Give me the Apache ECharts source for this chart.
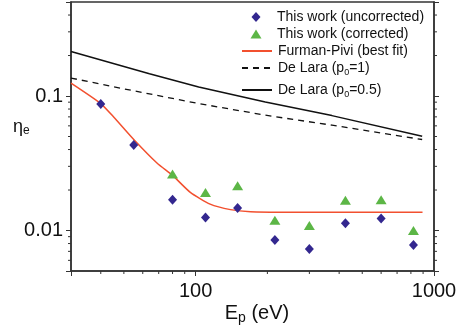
<!DOCTYPE html>
<html>
<head>
<meta charset="utf-8">
<script src="https://cdn.jsdelivr.net/npm/echarts@6/dist/echarts.min.js"></script>
<style>
  html, body { margin: 0; padding: 0; background: #fff; }
  #main { width: 463px; height: 333px; }
</style>
</head>
<body>
<div id="main"></div>
<script>
// measured points (E_p in eV, eta_e)
var xUncorr = [40, 55, 80, 110, 150, 215, 300, 425, 600, 820];
var yUncorr = [0.0873, 0.0432, 0.0169, 0.0125, 0.0147, 0.0085, 0.0073, 0.0113, 0.0123, 0.0078];
var xCorr = [80, 110, 150, 215, 300, 425, 600, 820];
var yCorr = [0.0263, 0.0192, 0.0215, 0.0119, 0.0109, 0.0168, 0.0169, 0.0100];

// model curves
var xFurman = [30, 40, 45.5, 55, 69, 80, 95, 115, 140, 170, 250, 895];
var yFurman = [0.1248, 0.0879, 0.0692, 0.0475, 0.0316, 0.0257, 0.0192, 0.0157, 0.0143, 0.0138, 0.01368, 0.01365];
var xLara1 = [30, 54, 103, 196, 373, 892];
var yLara1 = [0.136, 0.110, 0.0879, 0.072, 0.0607, 0.0475];
var xLara05 = [30, 64, 103, 196, 373, 892];
var yLara05 = [0.214, 0.1465, 0.1166, 0.0903, 0.0715, 0.0502];

// axis ranges and minor tick positions
var xMin = 30, xMax = 1000, yMin = 0.005, yMax = 0.5;
var minorX = [40, 50, 60, 70, 80, 90, 200, 300, 400, 500, 600, 700, 800, 900];
var minorY = [0.006, 0.007, 0.008, 0.009, 0.02, 0.03, 0.04, 0.05, 0.06, 0.07, 0.08, 0.09, 0.2, 0.3, 0.4];

var names = ['This work (uncorrected)', 'This work (corrected)', 'Furman-Pivi (best fit)',
             'De Lara (p0=1)', 'De Lara (p0=0.5)'];

function zip(xs, ys) {
    return xs.map(function (x, i) { return [x, ys[i]]; });
}

var FONT = 'Liberation Sans, Arial, Helvetica, sans-serif';
var AXIS_COLOR = '#333';

function decadeLabel(v) {
    var l = Math.log10(v);
    if (Math.abs(l - Math.round(l)) > 1e-6) return '';
    return String(Number(v.toPrecision(6)));
}

function legendText(name) {
    return name.replace('p0', 'p{s|0}');
}

var legendRich = {
    s: { fontSize: 9, lineHeight: 9, verticalAlign: 'bottom', fontFamily: FONT, color: '#111' }
};

function oneLegend(i, top, isLine, w, h, left, padLeft) {
    var lg = {
        data: [names[i]],
        left: left,
        top: top,
        padding: 0,
        itemWidth: w,
        itemHeight: h,
        selectedMode: false,
        formatter: legendText,
        textStyle: {
            fontSize: 14,
            lineHeight: 18,
            fontFamily: FONT,
            color: '#111',
            padding: [0, 0, 0, padLeft],
            rich: legendRich
        }
    };
    if (isLine) {
        // line only, no marker in the key
        lg.itemStyle = { opacity: 0 };
    }
    return lg;
}

function minorTick(kind) {
    return function (params, api) {
        var p, shape;
        if (kind === 'bottom') {
            p = api.coord([api.value(0), yMin]);
            shape = { x1: p[0], y1: p[1], x2: p[0], y2: p[1] + 3 };
        } else if (kind === 'left') {
            p = api.coord([xMin, api.value(1)]);
            shape = { x1: p[0], y1: p[1], x2: p[0] - 3, y2: p[1] };
        } else {
            p = api.coord([xMax, api.value(1)]);
            shape = { x1: p[0], y1: p[1], x2: p[0] + 3, y2: p[1] };
        }
        return { type: 'line', shape: shape, style: { stroke: AXIS_COLOR, lineWidth: 1 } };
    };
}

var myChart = echarts.init(document.getElementById('main'));

var logAxisCommon = {
    type: 'log',
    logBase: 10,
    splitLine: { show: false },
    axisLine: { show: true, lineStyle: { color: AXIS_COLOR, width: 1.5 } },
    axisTick: { show: true, inside: false, length: 5, lineStyle: { color: AXIS_COLOR, width: 1 } }
};

option = {
    backgroundColor: '#fff',
    animation: false,
    grid: {
        left: 71, right: 29, top: 2, bottom: 62,
        show: true, borderColor: AXIS_COLOR, borderWidth: 1.5
    },
    xAxis: [Object.assign({}, logAxisCommon, {
        min: xMin, max: xMax,
        position: 'bottom',
        axisLabel: {
            formatter: decadeLabel, fontSize: 20, color: '#111', fontFamily: FONT, margin: 10
        }
    })],
    yAxis: [Object.assign({}, logAxisCommon, {
        min: yMin, max: yMax,
        position: 'left',
        axisLabel: {
            formatter: decadeLabel, fontSize: 20, color: '#111', fontFamily: FONT, margin: 8
        }
    }), Object.assign({}, logAxisCommon, {
        min: yMin, max: yMax,
        position: 'right',
        axisLabel: { show: false }
    })],
    legend: [
        oneLegend(0, 8, false, 9, 10, 251.5, 11.5),
        oneLegend(1, 25, false, 11, 9, 250.5, 10.5),
        oneLegend(2, 42, true, 30, 10, 241, 1),
        oneLegend(3, 59, true, 30, 10, 241, 1),
        oneLegend(4, 81, true, 30, 10, 241, 1)
    ],
    graphic: [{
        type: 'text',
        x: 257, y: 301,
        style: {
            text: '{m|E}{s|p}{m| (eV)}',
            align: 'center',
            verticalAlign: 'top',
            rich: {
                m: { fontSize: 20, lineHeight: 24, fontFamily: FONT, fill: '#111' },
                s: { fontSize: 14, lineHeight: 14, verticalAlign: 'bottom', fontFamily: FONT, fill: '#111' }
            }
        }
    }, {
        type: 'text',
        x: 13, y: 117,
        style: {
            text: '{m|η}{s|e}',
            align: 'left',
            verticalAlign: 'top',
            rich: {
                m: { fontSize: 18, lineHeight: 20, fontFamily: FONT, fill: '#111' },
                s: { fontSize: 12, lineHeight: 12, verticalAlign: 'bottom', fontFamily: FONT, fill: '#111' }
            }
        }
    }],
    series: [{
        name: names[0],
        type: 'scatter',
        symbol: 'diamond',
        symbolSize: [9, 10],
        itemStyle: { color: '#33278f', opacity: 1 },
        data: zip(xUncorr, yUncorr),
        z: 5
    }, {
        name: names[1],
        type: 'scatter',
        symbol: 'triangle',
        symbolSize: [11, 9],
        itemStyle: { color: '#5cb646', opacity: 1 },
        data: zip(xCorr, yCorr),
        z: 4
    }, {
        name: names[2],
        type: 'line',
        symbol: 'none',
        smooth: 0.2,
        lineStyle: { color: '#f2502f', width: 1.5 },
        itemStyle: { color: '#f2502f' },
        data: zip(xFurman, yFurman),
        z: 3
    }, {
        name: names[3],
        type: 'line',
        symbol: 'none',
        lineStyle: { color: '#111', width: 1.3, type: [6, 5] },
        itemStyle: { color: '#111' },
        data: zip(xLara1, yLara1)
    }, {
        name: names[4],
        type: 'line',
        symbol: 'none',
        lineStyle: { color: '#111', width: 1.5 },
        itemStyle: { color: '#111' },
        data: zip(xLara05, yLara05)
    }, {
        type: 'custom', silent: true, clip: false,
        renderItem: minorTick('bottom'),
        data: minorX.map(function (v) { return [v, yMin]; })
    }, {
        type: 'custom', silent: true, clip: false,
        renderItem: minorTick('left'),
        data: minorY.map(function (v) { return [xMin, v]; })
    }, {
        type: 'custom', silent: true, clip: false,
        renderItem: minorTick('right'),
        data: minorY.map(function (v) { return [xMax, v]; })
    }]
};

myChart.setOption(option);

window.onresize = function () {
    myChart.resize();
};
</script>
</body>
</html>
